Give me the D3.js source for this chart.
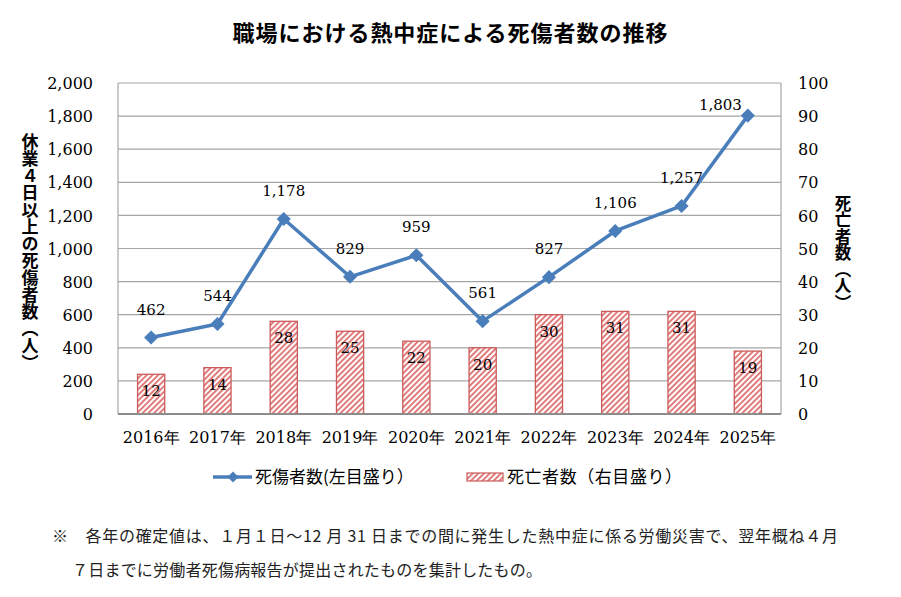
<!DOCTYPE html>
<html><head><meta charset="utf-8">
<script src="https://cdn.jsdelivr.net/npm/d3@7"></script>
<style>
body{margin:0;background:#fff;}
svg{display:block;}
</style></head>
<body>
<script>
const years = ["2016年","2017年","2018年","2019年","2020年","2021年","2022年","2023年","2024年","2025年"];
const casualties = [462,544,1178,829,959,561,827,1106,1257,1803];
const deaths = [12,14,28,25,22,20,30,31,31,19];
const leftTicks = [0,200,400,600,800,1000,1200,1400,1600,1800,2000];
const rightTicks = [0,10,20,30,40,50,60,70,80,90,100];
const title = "職場における熱中症による死傷者数の推移";
const leftLabel = "休業４日以上の死傷者数（人）";
const rightLabel = "死亡者数（人）";
const legendLine = "死傷者数(左目盛り）";
const legendBar = "死亡者数（右目盛り）";
const note1 = "※　各年の確定値は、１月１日～12 月 31 日までの間に発生した熱中症に係る労働災害で、翌年概ね４月";
const note2 = "７日までに労働者死傷病報告が提出されたものを集計したもの。";

const W=901,H=597;
const m={l:118,r:781,t:83,b:414};
const numFont="'DejaVu Serif', serif";
const jpFont="'Noto Sans CJK JP', sans-serif";
const svg=d3.select("body").append("svg").attr("width",W).attr("height",H);

const defs=svg.append("defs");
const pat=defs.append("pattern").attr("id","hatch").attr("patternUnits","userSpaceOnUse")
  .attr("width",4).attr("height",4).attr("patternTransform","rotate(45)");
pat.append("rect").attr("width",4).attr("height",4).attr("fill","#fff");
pat.append("line").attr("x1",1).attr("y1",0).attr("x2",1).attr("y2",4)
  .attr("stroke","#d95b5b").attr("stroke-width",1.6);

const x=d3.scaleBand().domain(years).range([m.l,m.r]).padding(0);
const yL=d3.scaleLinear().domain([0,2000]).range([m.b,m.t]);
const yR=d3.scaleLinear().domain([0,100]).range([m.b,m.t]);

// title
svg.append("text").attr("x",450).attr("y",41).attr("text-anchor","middle")
  .attr("font-family",jpFont).attr("font-weight","bold").attr("font-size",22)
  .attr("textLength",435).attr("lengthAdjust","spacing").text(title);

// gridlines
svg.append("g").selectAll("line").data(leftTicks.slice(1)).join("line")
  .attr("x1",m.l).attr("x2",m.r).attr("y1",d=>yL(d)).attr("y2",d=>yL(d))
  .attr("stroke","#a6a6a6").attr("stroke-width",1.2);
svg.append("line").attr("x1",m.l).attr("x2",m.l).attr("y1",m.t).attr("y2",m.b).attr("stroke","#a6a6a6").attr("stroke-width",1.2);
svg.append("line").attr("x1",m.r).attr("x2",m.r).attr("y1",m.t).attr("y2",m.b).attr("stroke","#a6a6a6").attr("stroke-width",1.2);

// left axis
const axL=svg.append("g").attr("transform",`translate(${m.l-25},0)`)
  .call(d3.axisLeft(yL).tickValues(leftTicks).tickFormat(d3.format(",")).tickSize(0).tickPadding(0));
axL.select(".domain").remove();
axL.selectAll("text").attr("font-family",numFont).attr("font-size",16).attr("fill","#000").attr("dy","0.35em");

// right axis
const axR=svg.append("g").attr("transform",`translate(${m.r+17},0)`)
  .call(d3.axisRight(yR).tickValues(rightTicks).tickSize(0).tickPadding(0));
axR.select(".domain").remove();
axR.selectAll("text").attr("font-family",numFont).attr("font-size",16).attr("fill","#000").attr("dy","0.35em");

// bottom axis labels
const axB=svg.append("g").attr("transform",`translate(0,${m.b+18})`)
  .call(d3.axisBottom(x).tickSize(0).tickPadding(0));
axB.select(".domain").remove();
axB.selectAll("text").attr("font-family",numFont).attr("font-size",16).attr("fill","#000").attr("dy","0.71em");

// bars
const bw=x.bandwidth()*0.41;
svg.append("g").selectAll("rect").data(deaths).join("rect")
  .attr("x",(d,i)=>x(years[i])+x.bandwidth()/2-bw/2)
  .attr("y",d=>yR(d)).attr("width",bw).attr("height",d=>m.b-yR(d))
  .attr("fill","url(#hatch)").attr("stroke","#cc5b5b").attr("stroke-width",1.3);

svg.append("line").attr("x1",m.l).attr("x2",m.r).attr("y1",m.b).attr("y2",m.b)
  .attr("stroke","#8c8c8c").attr("stroke-width",2);

// bar labels
svg.append("g").selectAll("text").data(deaths).join("text")
  .attr("x",(d,i)=>x(years[i])+x.bandwidth()/2).attr("y",d=>yR(d)+22)
  .attr("text-anchor","middle").attr("font-family",numFont).attr("font-size",15).text(d=>d);

// line
const cx=i=>x(years[i])+x.bandwidth()/2;
const line=d3.line().x((d,i)=>cx(i)).y(d=>yL(d));
svg.append("path").datum(casualties).attr("d",line).attr("fill","none")
  .attr("stroke","#4a7ebb").attr("stroke-width",3.5).attr("stroke-linejoin","round");
const sym=d3.symbol().type(d3.symbolSquare).size(100);
svg.append("g").selectAll("path").data(casualties).join("path")
  .attr("d",sym).attr("transform",(d,i)=>`translate(${cx(i)},${yL(d)}) rotate(45)`)
  .attr("fill","#4a7ebb");

// line labels
const fmt=d3.format(",");
const last=casualties.length-1;
svg.append("g").selectAll("text").data(casualties).join("text")
  .attr("x",(d,i)=>i===last?cx(i)-6:cx(i))
  .attr("y",(d,i)=>i===last?yL(d)-6:yL(d)-23)
  .attr("text-anchor",(d,i)=>i===last?"end":"middle")
  .attr("font-family",numFont).attr("font-size",15).text(d=>fmt(d));

// vertical axis titles
svg.append("text").attr("x",30).attr("y",133).style("writing-mode","vertical-rl")
  .attr("font-family",jpFont).attr("font-weight","bold").attr("font-size",17).text(leftLabel);
svg.append("text").attr("x",843).attr("y",195).style("writing-mode","vertical-rl")
  .attr("font-family",jpFont).attr("font-weight","bold").attr("font-size",16.5).text(rightLabel);

// legend
const ly=477;
svg.append("line").attr("x1",213).attr("x2",252).attr("y1",ly).attr("y2",ly).attr("stroke","#4a7ebb").attr("stroke-width",3.5);
svg.append("path").attr("d",d3.symbol().type(d3.symbolSquare).size(60)).attr("transform",`translate(233,${ly}) rotate(45)`).attr("fill","#4a7ebb");
svg.append("text").attr("x",255).attr("y",ly).attr("dy","0.36em").attr("font-family",jpFont).attr("font-size",17).text(legendLine);
svg.append("rect").attr("x",467).attr("y",ly-4).attr("width",36).attr("height",8).attr("fill","url(#hatch)").attr("stroke","#cc5b5b").attr("stroke-width",1.2);
svg.append("text").attr("x",507).attr("y",ly).attr("dy","0.36em").attr("font-family",jpFont).attr("font-size",17)
  .attr("textLength",175).attr("lengthAdjust","spacing").text(legendBar);

// footnote
svg.append("text").attr("x",52).attr("y",536).attr("dy","0.36em").attr("font-family",jpFont).attr("font-size",16)
  .attr("textLength",786).attr("lengthAdjust","spacing").attr("fill","#222").text(note1);
svg.append("text").attr("x",72).attr("y",570).attr("dy","0.36em").attr("font-family",jpFont).attr("font-size",16)
  .attr("textLength",470).attr("lengthAdjust","spacing").attr("fill","#222").text(note2);
</script>
</body></html>
